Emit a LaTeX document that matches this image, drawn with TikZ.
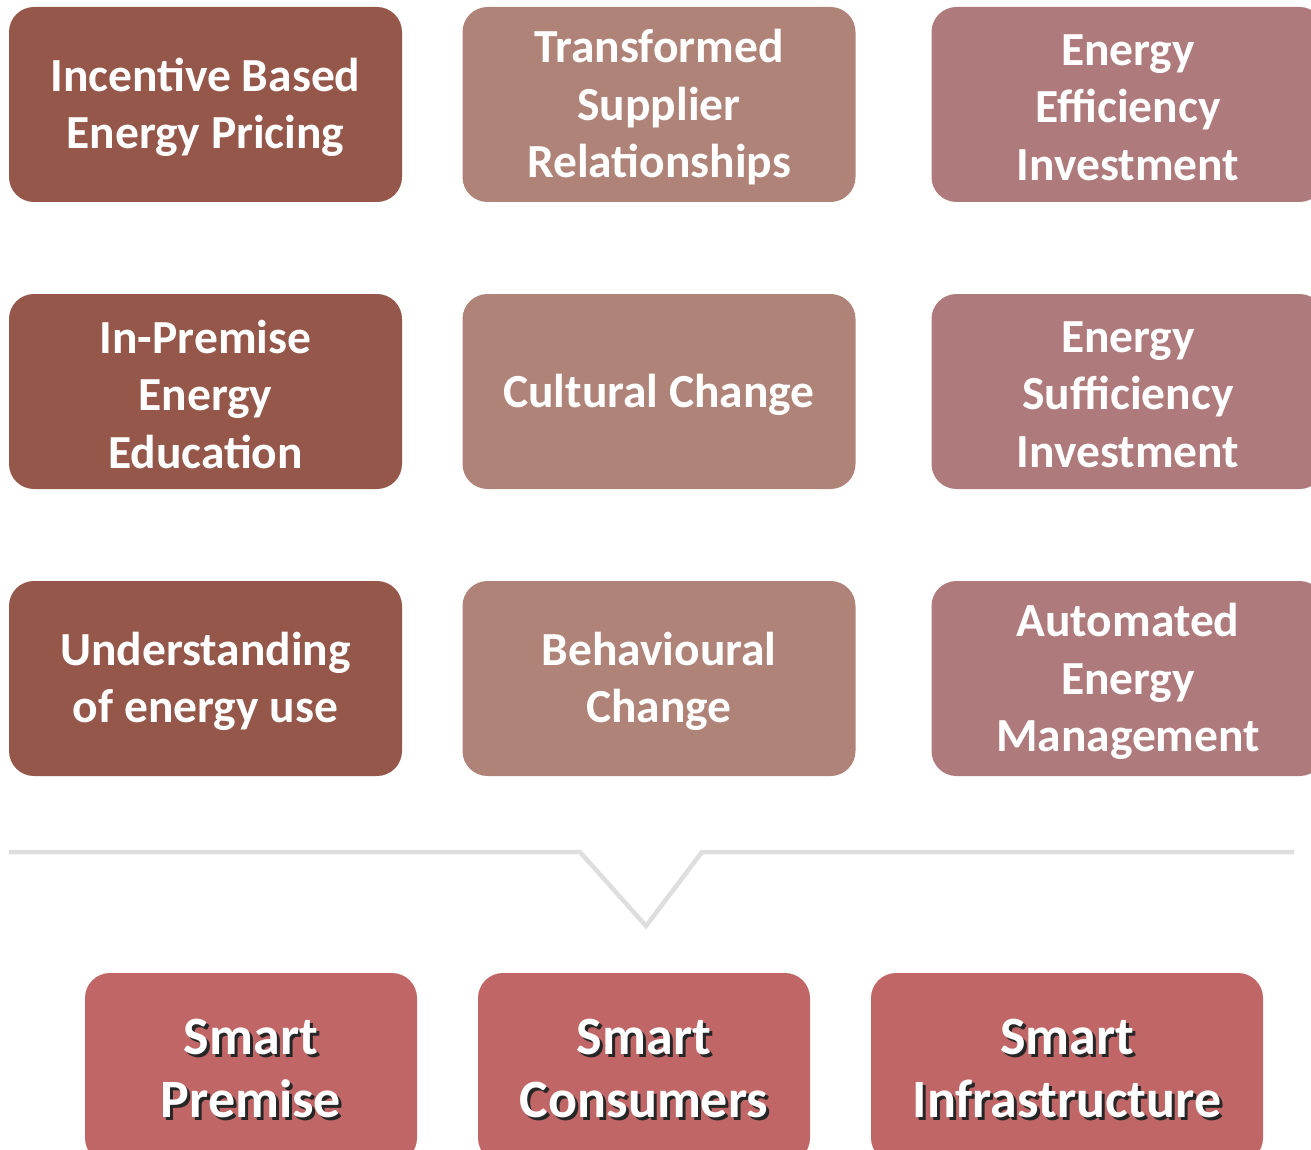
\documentclass[tikz,border=0pt]{standalone}
\usepackage{fontspec}
\setmainfont{Carlito}
\definecolor{colA}{HTML}{95574A}
\definecolor{colB}{HTML}{B08379}
\definecolor{colC}{HTML}{AF7A7B}
\definecolor{colD}{HTML}{C16666}
\definecolor{lineC}{HTML}{DEDEDE}
\begin{document}
\begin{tikzpicture}[x=1pt,y=-1pt,
  card/.style={rounded corners=25pt, minimum width=393pt, minimum height=195pt, inner sep=0pt},
  cardtxt/.style={text=white, align=center, inner sep=0pt, font=\bfseries\fontsize{47.5}{57.5}\selectfont},
  smartcard/.style={rounded corners=25pt, minimum height=190pt, inner sep=0pt, fill=colD},
  smarttxt/.style={text=white, align=center, inner sep=0pt, font=\bfseries\fontsize{54}{63}\selectfont},
  smartshadow/.style={smarttxt, text=black!85}]
\useasboundingbox (0,0) rectangle (1311,1150);
\begin{scope}
\clip (0,0) rectangle (1311,1150);
% row 1
\node[card, fill=colA] (a1) at (205.5,104.5) {};
\node[card, fill=colB] (b1) at (659,104.5) {};
\node[card, fill=colC] (c1) at (1128,104.5) {};
% row 2
\node[card, fill=colA] (a2) at (205.5,391.5) {};
\node[card, fill=colB] (b2) at (659,391.5) {};
\node[card, fill=colC] (c2) at (1128,391.5) {};
% row 3
\node[card, fill=colA] (a3) at (205.5,678.5) {};
\node[card, fill=colB] (b3) at (659,678.5) {};
\node[card, fill=colC] (c3) at (1128,678.5) {};
% texts
\node[cardtxt] (ta1) at ([yshift=-3pt]a1.center) {Incentive Based\\Energy Pricing};
\node[cardtxt] (tb1) at ([yshift=-3pt]b1.center) {Transformed\\Supplier\\Relationships};
\node[cardtxt] (tc1) at ([yshift=-3pt]c1.center) {Energy\\Efficiency\\Investment};
\node[cardtxt] (ta2) at ([yshift=-3pt]a2.center) {In-Premise\\Energy\\Education};
\node[cardtxt] (tb2) at ([yshift=-3pt]b2.center) {Cultural Change};
\node[cardtxt] (tc2) at ([yshift=-3pt]c2.center) {Energy\\Sufficiency\\Investment};
\node[cardtxt] (ta3) at ([yshift=-3pt]a3.center) {Understanding\\of energy use};
\node[cardtxt] (tb3) at ([yshift=-3pt]b3.center) {Behavioural\\Change};
\node[cardtxt] (tc3) at ([yshift=-3pt]c3.center) {Automated\\Energy\\Management};
% separator with V
\draw[lineC, line width=4.5pt] (9,852) -- (580,852) -- (646,926) -- (702,852) -- (1294,852);
% bottom
\node[smartcard, minimum width=332pt] (p) at (251,1068) {};
\node[smartcard, minimum width=332pt] (q) at (644,1068) {};
\node[smartcard, minimum width=392pt] (r) at (1067,1068) {};
\node[smartshadow] (ps) at ([shift={(3,3)}]p.center) {Smart\\Premise};
\node[smarttxt] (pt) at (p.center) {Smart\\Premise};
\node[smartshadow] (qs) at ([shift={(3,3)}]q.center) {Smart\\Consumers};
\node[smarttxt] (qt) at (q.center) {Smart\\Consumers};
\node[smartshadow] (rs) at ([shift={(3,3)}]r.center) {Smart\\Infrastructure};
\node[smarttxt] (rt) at (r.center) {Smart\\Infrastructure};
\end{scope}
\end{tikzpicture}
\end{document}
